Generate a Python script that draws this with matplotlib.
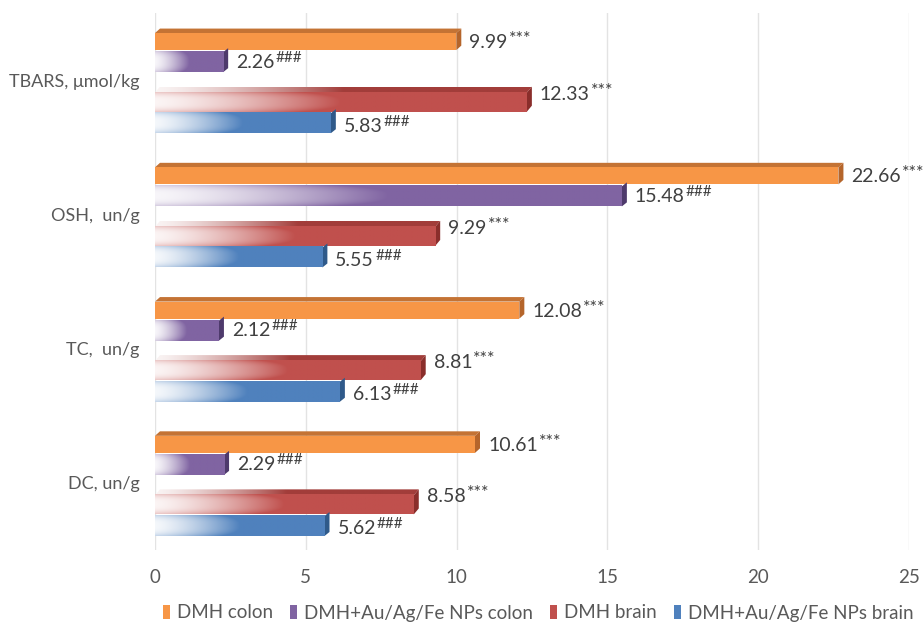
import numpy as np
import matplotlib
matplotlib.use("Agg")
import matplotlib.pyplot as plt
from matplotlib.patches import Polygon, Patch
from matplotlib.colors import to_rgb

# ---- data -------------------------------------------------------------
categories = ["TBARS, μmol/kg", "OSH,  un/g", "TC,  un/g", "DC, un/g"]
series_names = ["DMH colon", "DMH+Au/Ag/Fe NPs colon", "DMH brain",
                "DMH+Au/Ag/Fe NPs brain"]
dmh_colon = [9.99, 22.66, 12.08, 10.61]
np_colon = [2.26, 15.48, 2.12, 2.29]
dmh_brain = [12.33, 9.29, 8.81, 8.58]
np_brain = [5.83, 5.55, 6.13, 5.62]
marks = ["***", "###", "***", "###"]
x_ticks = [0, 5, 10, 15, 20, 25]

# ---- style ------------------------------------------------------------
W, H = 924, 626
colors = ["#F79646", "#8064A2", "#C0504D", "#4F81BD"]
side_colors = ["#B5652B", "#4E3A6C", "#8A2E2B", "#2F5A8A"]
top_colors = ["#C47334", "#5E4780", "#A23D3A", "#3A679C"]
gradient = [False, True, True, True]
# offsets (fraction of a group) of each series' front face centre, and heights
offsets = [-0.287, -0.134, 0.164, 0.321]
heights = [0.127, 0.149, 0.142, 0.149]
top_depth_px = [4.5, 0, 6, 0]
label_dy_px = [1, 0, -8, 3]
mark_size = [13, 11, 13, 11]
draw_order = [3, 2, 1, 0]

LATO = ["Lato", "DejaVu Sans"]
TXT = "#404040"
AX_TXT = "#595959"

fig = plt.figure(figsize=(W / 100, H / 100), dpi=100)
ax_left, ax_right, ax_top, ax_bottom = 155, 909, 13, 550
ax = fig.add_axes([ax_left / W, 1 - ax_bottom / H,
                   (ax_right - ax_left) / W, (ax_bottom - ax_top) / H])
xmax = 25
px_x = xmax / (ax_right - ax_left)          # data units per pixel (x)
px_y = 4.0 / (ax_bottom - ax_top)           # data units per pixel (y)
dx = 5 * px_x                                # depth of 3D side face

values = [dmh_colon, np_colon, dmh_brain, np_brain]


def fade_image(base, n=200, rows=24, edge_amt=0.25):
    """White-to-colour horizontal fade with slightly tinted edges."""
    c = np.array(to_rgb(base))
    t = np.clip(np.linspace(0, 1, n) / 0.5, 0, 1) ** 1.4
    t = 0.06 + 0.94 * t
    yy = np.abs(np.linspace(-1, 1, rows))[:, None]
    edge = edge_amt * yy ** 3
    b = np.clip(t[None, :] + edge, 0, 1)[..., None]
    return (1 - b) * np.ones(3) + b * c


for s in draw_order:
    for g in range(len(categories)):
        v = values[s][g]
        yc = g + offsets[s]
        h = heights[s]
        top = yc - h / 2          # y axis is inverted: smaller = higher
        bot = yc + h / 2
        dy = top_depth_px[s] * px_y
        sdy = max(dy, 4 * px_y)
        z = 2 + s * 0.1
        # top face
        if dy > 0:
            poly = Polygon([(0, top), (dx, top - dy), (v + dx, top - dy),
                            (v, top)], closed=True, facecolor=top_colors[s],
                           edgecolor="none", zorder=z)
            ax.add_patch(poly)
            if gradient[s]:
                poly.set_facecolor("none")
                im = ax.imshow(fade_image(top_colors[s], rows=4, edge_amt=0),
                               extent=(0, v + dx, top, top - dy),
                               aspect="auto", interpolation="bilinear",
                               zorder=z)
                im.set_clip_path(poly)
        # right face
        ax.add_patch(Polygon([(v, top), (v + dx, top - sdy), (v + dx, bot - sdy),
                              (v, bot)], closed=True, facecolor=side_colors[s],
                             edgecolor="none", zorder=z))
        # front face
        if gradient[s]:
            ax.imshow(fade_image(colors[s]), extent=(0, v, bot, top),
                      aspect="auto", interpolation="bilinear", zorder=z + 0.05)
        else:
            ax.add_patch(Polygon([(0, top), (v, top), (v, bot), (0, bot)],
                                 closed=True, facecolor=colors[s],
                                 edgecolor="none", zorder=z + 0.05))
        # value label with significance mark
        t = ax.annotate(f"{v:.2f}", xy=(v, yc), xytext=(13, -label_dy_px[s]),
                        textcoords="offset pixels", ha="left", va="center",
                        fontsize=14, color=TXT, family=LATO, zorder=5)
        ax.annotate(marks[s], xy=(1, 1.0), xycoords=t, xytext=(1, 3),
                    textcoords="offset pixels", ha="left", va="top",
                    fontsize=mark_size[s], color=TXT, family=LATO, zorder=5)

ax.set_xlim(0, xmax)
ax.set_ylim(3.5, -0.5)
ax.set_xticks(x_ticks)
ax.set_xticklabels([str(t) for t in x_ticks], fontsize=13.5, color=AX_TXT,
                   family=LATO)
ax.set_yticks(range(len(categories)))
ax.set_yticklabels(categories, fontsize=13, color=AX_TXT, family=LATO)
ax.tick_params(axis="both", length=0)
ax.tick_params(axis="x", pad=14)
ax.tick_params(axis="y", pad=11)
for sp in ax.spines.values():
    sp.set_visible(False)
ax.grid(axis="x", color="#E3E3E3", linewidth=1.0, zorder=0)
ax.set_axisbelow(True)

handles = [Patch(facecolor=c, edgecolor="none") for c in colors]
fig.legend(handles, series_names, loc="center", ncol=4,
           bbox_to_anchor=(538 / W, 1 - 613 / H), frameon=False,
           prop={"family": LATO, "size": 13.5}, labelcolor=AX_TXT,
           handlelength=0.4, handleheight=0.8, handletextpad=0.35,
           columnspacing=0.9)

fig.savefig("out.png", dpi=100)
